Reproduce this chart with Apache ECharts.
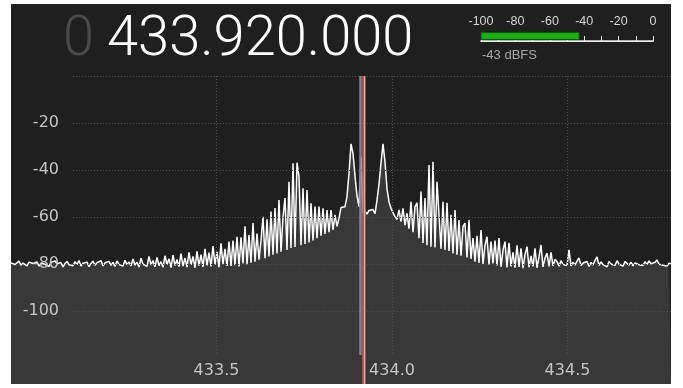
<!DOCTYPE html>
<html>
<head>
<meta charset="utf-8">
<script src="https://cdn.jsdelivr.net/npm/echarts@6/dist/echarts.min.js"></script>
<style>
  html, body { margin: 0; padding: 0; background: #ffffff; }
  #wrap { position: relative; width: 683px; height: 388px; }
  #panel { position: absolute; left: 11px; top: 4px; width: 660px; height: 380px; background: #1f1f1f; }
  #chart { position: absolute; left: 0; top: 0; width: 683px; height: 388px; }
</style>
</head>
<body>
<div id="wrap">
  <div id="panel"></div>
  <div id="chart"></div>
</div>
<script>
// Tuning readout
const FREQ_GHZ_DIGIT = '0';
const FREQ_TEXT = '433.920.000';
const CENTER_MHZ = 433.912;   // SDR centre frequency
const VFO_MHZ = 433.92;       // tuned VFO

// Level meter
const METER_TICKS = [-100, -80, -60, -40, -20, 0];
const LEVEL_DBFS = -43;
const LEVEL_TEXT = '-43 dBFS';

// Frequency axis labels (MHz)
const FREQ_TICKS = [433.5, 434.0, 434.5];
// Power axis labels (dB)
const DB_TICKS = [-20, -40, -60, -80, -100];

// FFT display span
const START_MHZ = 432.9145;
const BIN_MHZ = 2 / 351;
const SPAN_MHZ = 660 / 351;

// FFT magnitude per bin (dB)
const SPECTRUM_DB = [
  -79.5,-79.0,-80.2,-79.4,-78.8,-80.5,-79.6,-79.9,-80.8,-79.2,
  -78.6,-79.8,-80.4,-79.1,-80.9,-79.7,-78.9,-80.1,-79.5,-81.0,
  -79.3,-80.0,-78.7,-79.9,-80.6,-79.4,-81.2,-79.8,-78.9,-80.3,
  -79.6,-80.7,-79.0,-80.2,-78.5,-80.9,-79.7,-80.4,-79.2,-81.1,
  -79.8,-78.8,-80.5,-79.4,-80.1,-78.6,-80.8,-79.5,-80.0,-78.9,
  -80.6,-79.3,-81.0,-78.7,-80.2,-79.6,-80.9,-78.4,-80.3,-79.1,
  -80.8,-77.9,-80.5,-79.2,-81.3,-77.5,-80.1,-79.6,-81.0,-76.8,
  -80.4,-78.5,-81.2,-77.2,-80.7,-79.0,-81.4,-76.5,-80.2,-77.8,
  -81.5,-76.2,-80.6,-78.1,-81.1,-75.6,-80.9,-77.4,-81.3,-75.0,
  -80.4,-76.8,-81.6,-74.6,-80.7,
  -76.0,-81.2,-73.5,-80.6,-75.2,-81.0,-72.4,-80.3,-74.8,-81.4,
  -71.2,-80.1,-73.6,-80.8,-70.5,
  -80.8,-70.0,-80.5,-68.4,-81.0,-68.6,-79.8,-64.0,-80.2,-67.7,
  -79.4,-62.6,-79.0,-67.0,
  -78.2,-70.0,-59.9,-77.5,-61.0,-76.8,-57.7,-76.0,-56.2,-75.5,
  -52.8,-74.8,-60.0,-51.9,-74.0,-45.0,-73.2,-37.1,-72.8,-36.9,
  -42.8,-72.0,-47.8,-71.5,-48.5,-70.8,-54.2,-70.0,-55.6,-69.0,
  -55.6,-68.0,-56.3,-67.2,-57.0,-66.5,-57.0,-65.5,-59.1,-64.0,
  -60.5,
  -56.0,-56.5,-55.6,-51.3,-41.5,-28.9,-33.0,-42.5,-51.0,-55.6,
  -34.3,-58.4,-57.5,-58.8,-57.2,-58.0,-56.8,-58.6,-52.8,-46.0,
  -37.0,-28.9,-36.5,-48.0,-53.5,-56.3,-57.0,-59.9,
  -61.0,-57.0,-62.0,-56.3,-63.5,-58.4,-65.0,-53.5,-66.5,-55.6,
  -54.0,-69.0,-49.2,-71.0,-51.9,-72.0,-37.9,-72.6,-36.5,-73.0,
  -45.0,-44.3,-73.5,-53.5,-74.0,-54.0,-74.5,-59.1,-75.5,-57.0,
  -76.0,-61.3,-76.5,-64.0,-62.6,-77.2,-61.3,-77.8,
  -69.0,-79.0,-68.0,-79.5,-65.5,-80.0,-72.0,-68.4,-80.2,-70.5,
  -79.8,-70.0,-80.6,-69.0,-81.2,-74.0,-70.5,-81.5,-71.0,-81.0,
  -75.0,-81.6,-72.0,-81.2,-73.3,-81.8,-76.0,-72.6,-81.4,-76.5,
  -81.0,-73.3,-81.6,-77.0,-71.9,-81.2,-77.5,-75.4,-81.0,-75.0,
  -80.8,-78.0,-79.0,-80.9,-78.6,-80.2,-79.4,-80.6,-74.0,-80.8,
  -79.2,-80.5,-78.8,-77.4,-80.7,-79.6,-80.2,-78.9,-81.0,-79.3,
  -80.4,-78.5,-77.0,-80.6,-79.1,-80.3,-79.8,-81.2,-78.9,-80.0,
  -79.4,-80.7,-78.6,-80.1,-79.7,-80.9,-79.0,-78.3,-80.5,-79.2,
  -80.8,-79.6,-78.8,-80.3,-79.5,-80.6,-79.0,-80.2,-78.7,-79.9,
  -80.7,-79.3,-78.3,-80.1,-79.4,-80.5,-79.8,-80.9,-79.6,-80.0
];

const chart = echarts.init(document.getElementById('chart'), null, { renderer: 'canvas' });

const DB_PER_PX = 20 / 47;
const dotted = { color: '#4e4e4e', width: 1, type: [1, 2] };
const labelGrey = '#c4c4c4';

chart.setOption({
  animation: false,
  backgroundColor: 'transparent',
  grid: [
    // power grid lines + labels
    { left: 73, top: 76, width: 598, height: 235 },
    // spectrum trace
    { left: 11, top: 76, width: 660, height: 308 },
    // frequency grid lines + labels
    { left: 216.5, top: 76, width: 351, height: 279 },
    // level meter
    { left: 481, top: 31, width: 172, height: 10 }
  ],
  xAxis: [
    { gridIndex: 0, type: 'value', min: 0, max: 1, show: false },
    { gridIndex: 1, type: 'value', min: START_MHZ, max: START_MHZ + SPAN_MHZ, show: false },
    {
      gridIndex: 2, type: 'value', min: FREQ_TICKS[0], max: FREQ_TICKS[FREQ_TICKS.length - 1], interval: 0.5,
      z: 5,
      axisLine: { show: false }, axisTick: { show: false },
      splitLine: { show: true, lineStyle: dotted },
      axisLabel: {
        show: true, margin: 8, color: labelGrey, fontSize: 16, fontFamily: 'DejaVu Sans',
        showMinLabel: true, showMaxLabel: true,
        formatter: v => v.toFixed(1)
      }
    },
    {
      gridIndex: 3, type: 'value', position: 'top', min: -100, max: 0, interval: 10,
      axisLine: { show: true, lineStyle: { color: '#e8e8e8', width: 1 } },
      axisTick: { show: true, length: 5, lineStyle: { color: '#e8e8e8', width: 1 } },
      splitLine: { show: false },
      axisLabel: {
        show: true, margin: 3, color: '#d6d6d6', fontSize: 12.5, fontFamily: 'Liberation Sans',
        showMinLabel: true, showMaxLabel: true,
        formatter: v => (METER_TICKS.indexOf(v) >= 0 ? String(v) : '')
      }
    },
    {
      gridIndex: 3, type: 'value', position: 'bottom', min: -100, max: 0,
      axisLine: { show: true, lineStyle: { color: '#e8e8e8', width: 1.5 } },
      axisTick: { show: false }, axisLabel: { show: false }, splitLine: { show: false }
    }
  ],
  yAxis: [
    {
      gridIndex: 0, type: 'value', min: -100, max: 0, interval: 20, z: 5,
      axisLine: { show: false }, axisTick: { show: false },
      splitLine: { show: true, lineStyle: dotted },
      axisLabel: {
        show: true, margin: 14, color: labelGrey, fontSize: 16, fontFamily: 'DejaVu Sans',
        formatter: v => (DB_TICKS.indexOf(v) >= 0 ? String(v) : '')
      }
    },
    { gridIndex: 1, type: 'value', min: -308 * DB_PER_PX, max: 0, show: false },
    { gridIndex: 2, type: 'value', min: 0, max: 1, show: false },
    { gridIndex: 3, type: 'value', min: 0, max: 1, show: false }
  ],
  graphic: {
    elements: [
      {
        type: 'text', left: 63, top: 13, z: 100,
        style: { text: FREQ_GHZ_DIGIT, font: '300 56px Roboto', fill: '#4a4a4a' }
      },
      {
        type: 'text', left: 107, top: 13, z: 100,
        style: { text: FREQ_TEXT, font: '300 56px Roboto', fill: '#ffffff' }
      },
      {
        type: 'text', left: 482, top: 49, z: 100,
        style: { text: LEVEL_TEXT, font: '13px "Liberation Sans"', fill: '#a8a8a8' }
      }
    ]
  },
  series: [
    {
      // centre-frequency marker
      type: 'line', xAxisIndex: 2, yAxisIndex: 2, z: 1, silent: true,
      data: [[FREQ_TICKS[0], -1]], symbol: 'none', lineStyle: { opacity: 0 },
      markLine: {
        silent: true, symbol: 'none', label: { show: false },
        lineStyle: { color: '#7f8394', width: 2.5, type: 'solid' },
        data: [{ xAxis: CENTER_MHZ }]
      }
    },
    {
      type: 'line', xAxisIndex: 1, yAxisIndex: 1, z: 2, silent: true,
      symbol: 'none', smooth: false,
      data: SPECTRUM_DB.map((v, i) => [START_MHZ + i * BIN_MHZ, v]),
      lineStyle: { color: '#ffffff', width: 1.5 },
      areaStyle: { color: '#383838', opacity: 1, origin: 'start' },
      markLine: {
        silent: true, symbol: 'none', label: { show: false },
        data: [
          { xAxis: VFO_MHZ, lineStyle: { color: '#c25a5e', width: 3.5, type: 'solid' } },
          { xAxis: VFO_MHZ, lineStyle: { color: '#eaa6a8', width: 1, type: 'solid' } }
        ]
      }
    },
    {
      // level bar
      type: 'custom', xAxisIndex: 3, yAxisIndex: 3, silent: true,
      data: [[LEVEL_DBFS, 0.5]],
      renderItem: (params, api) => {
        const p0 = api.coord([-100, 0.5]);
        const p1 = api.coord([api.value(0), 0.5]);
        return {
          type: 'rect',
          shape: { x: p0[0], y: p0[1] - 3.5, width: p1[0] - p0[0], height: 7 },
          style: { fill: '#16b016', stroke: '#0b5a0b', lineWidth: 1 }
        };
      }
    }
  ]
});
</script>
</body>
</html>
